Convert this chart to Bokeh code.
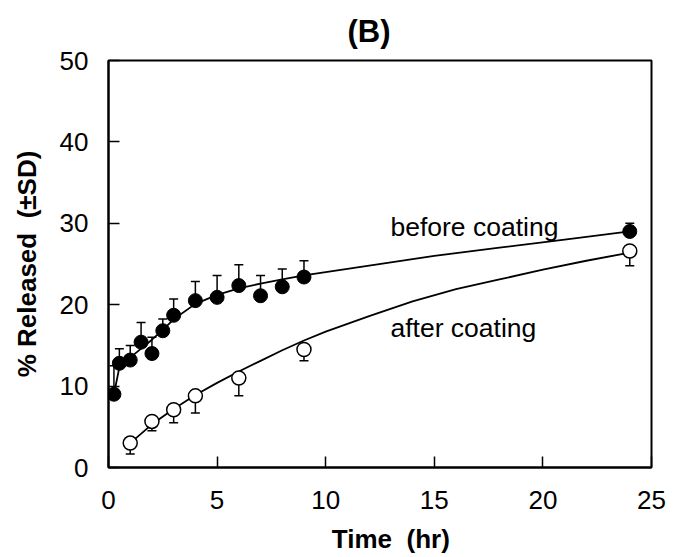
from bokeh.plotting import figure
from bokeh.models import Whisker, ColumnDataSource, Label, Title, FixedTicker
from bokeh.embed import file_html
from bokeh.resources import INLINE

# Data
before_t = [0.25, 0.5, 1, 1.5, 2, 2.5, 3, 4, 5, 6, 7, 8, 9, 24]
before_y = [9.0, 12.8, 13.2, 15.4, 14.0, 16.8, 18.7, 20.5, 20.9, 22.35, 21.1, 22.2, 23.4, 29.0]
before_sd = [3.5, 1.8, 1.8, 2.4, 2.0, 1.45, 2.0, 2.35, 2.7, 2.55, 2.5, 2.2, 2.0, 1.0]

after_t = [1, 2, 3, 4, 6, 9, 24]
after_y = [3.0, 5.66, 7.1, 8.8, 11.0, 14.5, 26.6]
after_sd = [1.35, 1.15, 1.6, 2.1, 2.2, 1.4, 1.8]

# Fitted curves
before_curve_t = [0.25, 0.5, 1, 1.5, 2, 2.5, 3, 4, 5, 6, 7, 8, 9, 10, 12, 15, 18, 21, 24]
before_curve_y = [9.0, 12.3, 13.5, 14.6, 15.7, 16.9, 18.2, 20.1, 21.2, 22.0, 22.6, 23.1, 23.6, 24.0, 24.8, 26.0, 27.0, 28.0, 29.0]
after_curve_t = [1, 2, 3, 4, 5, 6, 7, 8, 9, 10, 12, 14, 16, 18, 20, 22, 24]
after_curve_y = [3.0, 5.3, 7.2, 8.9, 10.4, 11.8, 13.1, 14.4, 15.6, 16.7, 18.6, 20.4, 21.9, 23.1, 24.3, 25.4, 26.4]

x_ticks = [0, 5, 10, 15, 20, 25]
y_ticks = [0, 10, 20, 30, 40, 50]

title_text = "(B)"
x_label = "\u00a0\u00a0\u00a0Time\u00a0\u00a0(hr)"
y_label = "% Released\u00a0\u00a0(\u00b1SD)"
series_labels = ["before coating", "after coating"]

FONT = "Liberation Sans"

p = figure(frame_width=543, frame_height=407, x_range=(0, 25), y_range=(0, 50),
           output_backend="svg", toolbar_location=None,
           min_border_left=108, min_border_right=22, min_border_top=60, min_border_bottom=90)

p.add_layout(Title(text=title_text, align="left", offset=239, vertical_align="middle",
                   standoff=21, text_font=FONT, text_font_size="31px",
                   text_font_style="bold", text_color="black"), "above")

p.grid.visible = False
p.background_fill_color = "white"
p.border_fill_color = "white"
p.outline_line_color = "black"
p.outline_line_width = 2

for ax in (p.xaxis[0], p.yaxis[0]):
    ax.axis_line_width = 2
    ax.axis_line_color = "black"
    ax.major_tick_in = 11
    ax.major_tick_out = 0
    ax.minor_tick_in = 0
    ax.minor_tick_out = 0
    ax.major_tick_line_width = 1.5
    ax.major_label_text_font = FONT
    ax.major_label_text_font_size = "26px"
    ax.major_label_text_color = "black"
    ax.axis_label_text_font = FONT
    ax.axis_label_text_font_size = "26px"
    ax.axis_label_text_font_style = "bold"
    ax.axis_label_text_color = "black"

p.xaxis.ticker = FixedTicker(ticks=x_ticks)
p.yaxis.ticker = FixedTicker(ticks=y_ticks)
p.xaxis.axis_label = x_label
p.yaxis.axis_label = y_label
p.xaxis.major_label_standoff = 23
p.yaxis.major_label_standoff = 20
p.xaxis.axis_label_standoff = 12
p.yaxis.axis_label_standoff = 15

p.line(before_curve_t, before_curve_y, line_color="black", line_width=1.8)
p.line(after_curve_t, after_curve_y, line_color="black", line_width=1.8)

bsrc = ColumnDataSource(dict(t=before_t, y=before_y,
                             up=[v + s for v, s in zip(before_y, before_sd)]))
asrc = ColumnDataSource(dict(t=after_t, y=after_y,
                             lo=[v - s for v, s in zip(after_y, after_sd)]))

wb = Whisker(source=bsrc, base="t", lower="y", upper="up", line_color="black",
             line_width=1.5, lower_head=None)
wb.upper_head.size = 9
wb.upper_head.line_width = 1.5
wa = Whisker(source=asrc, base="t", lower="lo", upper="y", line_color="black",
             line_width=1.5, upper_head=None)
wa.lower_head.size = 9
wa.lower_head.line_width = 1.5
p.add_layout(wb)
p.add_layout(wa)

p.scatter("t", "y", source=bsrc, size=14, fill_color="black", line_color="black")
p.scatter("t", "y", source=asrc, size=14, fill_color="white", line_color="black", line_width=1.5)

p.add_layout(Label(x=12.98, y=29.6, text=series_labels[0], text_font=FONT,
                   text_font_size="26.5px", text_color="black", text_baseline="alphabetic"))
p.add_layout(Label(x=12.98, y=17.1, text=series_labels[1], text_font=FONT,
                   text_font_size="26.5px", text_color="black", text_baseline="alphabetic"))

open("out.html", "w").write(file_html(p, INLINE))
